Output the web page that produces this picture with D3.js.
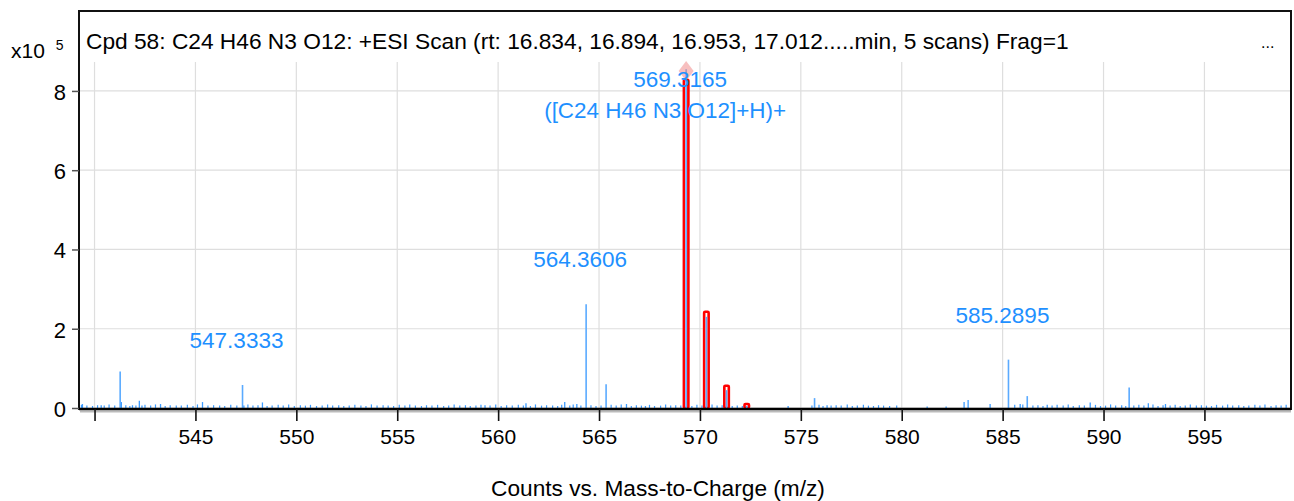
<!DOCTYPE html>
<html><head><meta charset="utf-8">
<script src="https://cdn.jsdelivr.net/npm/d3@7"></script>
<style>
html,body{margin:0;padding:0;background:#fff;}
svg{display:block;font-family:"Liberation Sans",Arial,sans-serif;}
</style></head>
<body>
<svg id="c" width="1294" height="501"></svg>
<script>
// ---- data (intensities in units of x10^5) ----
const titleText = "Cpd 58: C24 H46 N3 O12: +ESI Scan (rt: 16.834, 16.894, 16.953, 17.012.....min, 5 scans) Frag=1";
const xTickValues = [540, 545, 550, 555, 560, 565, 570, 575, 580, 585, 590, 595];
const xTickLabels = ["", "545", "550", "555", "560", "565", "570", "575", "580", "585", "590", "595"];
const yTickValues = [0, 2, 4, 6, 8];
const xTitle = "Counts vs. Mass-to-Charge (m/z)";

// named peaks
const peakMz = [541.27, 547.3333, 564.3606, 565.35, 569.3165, 570.32, 571.32, 572.32, 575.68, 585.2895, 586.22, 591.27];
const peakInt = [0.92, 0.58, 2.62, 0.60, 8.55, 2.30, 0.45, 0.05, 0.25, 1.22, 0.30, 0.52];

// small peaks
const minorMz = [539.40, 540.33, 541.33, 541.88, 542.22, 542.35, 543.27, 545.35, 547.40, 548.32, 559.35, 561.38, 563.30, 563.90, 566.36, 567.30, 574.37, 576.30, 583.09, 583.29, 584.38, 585.87, 587.21, 589.34, 592.22, 593.07, 581.26, 582.20];
const minorInt = [0.10, 0.07, 0.15, 0.07, 0.18, 0.06, 0.10, 0.15, 0.06, 0.14, 0.07, 0.12, 0.15, 0.10, 0.10, 0.05, 0.05, 0.07, 0.15, 0.20, 0.10, 0.10, 0.08, 0.14, 0.12, 0.10, 0.04, 0.04];

// baseline noise
const noiseMz = [539.35,539.62,539.90,540.15,540.48,540.72,541.00,541.55,541.75,542.05,542.50,542.78,543.02,543.50,543.75,544.05,544.30,544.60,544.88,545.10,545.62,545.90,546.20,546.45,546.75,547.05,547.60,547.85,548.10,548.55,548.80,549.10,549.35,549.62,549.90,550.20,550.45,550.70,551.00,551.28,551.55,551.80,552.10,552.35,552.62,552.90,553.20,553.45,553.72,554.00,554.30,554.55,554.82,555.10,555.38,555.62,555.90,556.20,556.45,556.72,557.00,557.30,557.55,557.82,558.10,558.38,558.62,558.90,559.15,559.60,559.88,560.15,560.42,560.70,561.00,561.25,561.60,561.85,562.15,562.40,562.70,562.95,563.15,563.55,563.72,564.10,564.60,564.85,565.10,565.60,565.85,566.10,566.60,566.85,567.10,567.50,567.75,568.05,568.30,568.55,568.80,569.05,569.60,569.85,570.10,570.60,570.85,571.10,571.60,571.85,572.10,575.55,575.90,576.10,576.50,576.75,577.00,577.30,577.55,577.80,578.10,578.35,578.60,578.85,579.10,579.40,579.75,585.60,586.00,586.50,586.75,587.00,587.45,587.70,588.00,588.25,588.50,588.80,589.05,589.60,589.85,590.10,590.35,590.60,590.90,591.10,591.50,591.75,592.00,592.45,592.70,592.95,593.30,593.55,593.80,594.05,594.30,594.60,594.85,595.10,595.35,595.60,595.90,596.15,596.40,596.70,596.95,597.20,597.50,597.75,598.00,598.30,598.55,598.80,599.05];
const noiseInt = [0.08,0.06,0.05,0.07,0.06,0.09,0.06,0.07,0.05,0.06,0.08,0.06,0.09,0.05,0.07,0.06,0.06,0.08,0.05,0.09,0.06,0.07,0.06,0.05,0.08,0.06,0.09,0.06,0.07,0.05,0.06,0.08,0.06,0.09,0.05,0.07,0.06,0.08,0.05,0.06,0.09,0.06,0.07,0.05,0.06,0.08,0.06,0.05,0.09,0.06,0.07,0.06,0.05,0.08,0.06,0.09,0.06,0.05,0.07,0.06,0.08,0.05,0.06,0.09,0.06,0.07,0.05,0.06,0.08,0.06,0.09,0.05,0.07,0.06,0.08,0.06,0.05,0.09,0.06,0.07,0.06,0.05,0.08,0.06,0.09,0.06,0.07,0.05,0.06,0.08,0.06,0.09,0.05,0.07,0.06,0.08,0.05,0.06,0.09,0.06,0.07,0.06,0.05,0.08,0.06,0.09,0.06,0.07,0.05,0.06,0.05,0.06,0.08,0.05,0.06,0.07,0.06,0.09,0.05,0.06,0.08,0.06,0.05,0.07,0.06,0.05,0.06,0.08,0.09,0.06,0.07,0.05,0.06,0.08,0.06,0.09,0.05,0.07,0.06,0.08,0.05,0.06,0.09,0.06,0.07,0.05,0.06,0.08,0.06,0.09,0.05,0.07,0.06,0.08,0.05,0.06,0.09,0.06,0.07,0.06,0.05,0.08,0.06,0.09,0.06,0.07,0.05,0.06,0.08,0.06,0.09,0.05,0.07,0.06,0.08,0.05,0.06];

// predicted isotope pattern (red boxes)
const isoMz = [569.3165, 570.32, 571.32, 572.32];
const isoInt = [8.28, 2.43, 0.56, 0.10];

// labels
const labelMz = [569.3165, 564.3606, 547.3333, 585.2895];
const labelText = ["569.3165", "564.3606", "547.3333", "585.2895"];
const formulaText = "([C24 H46 N3 O12]+H)+";

// ---- drawing ----
const svg = d3.select("#c");
const pLeft = 79, pRight = 1291, pTop = 62, pBottom = 408;
const x = d3.scaleLinear().domain([539.23, 599.29]).range([pLeft, pRight]);
const y = d3.scaleLinear().domain([0, 8.73]).range([pBottom, pTop]);
const BLUE = "#1e90ff";
const FONT = "Liberation Sans, Arial, sans-serif";

function fitText(sel, base, width) {
  sel.attr("font-size", base);
  const w = sel.node().getComputedTextLength();
  sel.attr("font-size", base * width / w);
  return sel;
}

// grid
const grid = svg.append("g");
grid.selectAll("line.v").data(xTickValues).join("line")
  .attr("x1", d => x(d)).attr("x2", d => x(d)).attr("y1", pTop).attr("y2", pBottom)
  .attr("stroke", "#dedede").attr("stroke-width", 1.2);
grid.selectAll("line.h").data(yTickValues).join("line")
  .attr("x1", pLeft + 1).attr("x2", pRight).attr("y1", d => y(d)).attr("y2", d => y(d))
  .attr("stroke", "#dedede").attr("stroke-width", 1.2);

// noise and peaks
const stick = (g, mz, it, col, w) => {
  g.selectAll(null).data(mz.map((m, i) => [m, it[i]])).join("line")
    .attr("x1", d => x(d[0])).attr("x2", d => x(d[0]))
    .attr("y1", y(0)).attr("y2", d => y(d[1]))
    .attr("stroke", col).attr("stroke-width", w);
};
const pg = svg.append("g");
stick(pg, noiseMz, noiseInt, "#3d9cff", 1.2);
stick(pg, minorMz, minorInt, "#3d9cff", 1.3);

// red isotope boxes
const bw = 4.5;
svg.append("g").selectAll("rect").data(isoMz.map((m, i) => [m, isoInt[i]])).join("rect")
  .attr("x", d => x(d[0]) - bw / 2).attr("width", bw)
  .attr("y", d => y(d[1])).attr("height", d => y(0) - y(d[1]))
  .attr("rx", 1).attr("fill", "#fff").attr("stroke", "#ff0000").attr("stroke-width", 2.6);

const mg = svg.append("g");
stick(mg, peakMz, peakInt, "#5aaaff", 1.6);

// diamond at apex of base peak
svg.append("path")
  .attr("d", d3.symbol(d3.symbolDiamond, 160)())
  .attr("transform", `translate(${x(569.3165)},${y(8.5)}) scale(1.1,0.85)`)
  .attr("fill", "#f08080").attr("opacity", 0.5);

// peak labels
const lg = svg.append("g").attr("fill", BLUE).attr("text-anchor", "middle");
labelMz.forEach((m, i) => {
  const idx = peakMz.indexOf(m);
  const ty = Math.max(y(peakInt[idx]) - 37, 87);
  fitText(lg.append("text").attr("x", x(m) - 6).attr("y", ty).text(labelText[i]), 20, 94);
  if (i === 0) fitText(lg.append("text").attr("x", x(m) - 21).attr("y", ty + 31).text(formulaText), 20, 242);
});

// frame
svg.append("rect").attr("x", 79).attr("y", 11).attr("width", 1212).attr("height", 398)
  .attr("fill", "none").attr("stroke", "#111").attr("stroke-width", 2);
svg.append("line").attr("x1", 80).attr("x2", 1291).attr("y1", 411.5).attr("y2", 411.5)
  .attr("stroke", "#bbb").attr("stroke-width", 2);
svg.append("line").attr("x1", 79).attr("x2", 1291).attr("y1", 409).attr("y2", 409)
  .attr("stroke", "#000").attr("stroke-width", 2.5);

// axes
const xa = svg.append("g").attr("transform", `translate(0,${409})`)
  .call(d3.axisBottom(x).tickValues(xTickValues).tickSize(12).tickPadding(8)
    .tickFormat((d, i) => xTickLabels[i]));
xa.select(".domain").remove();
xa.attr("font-size", 21).attr("font-family", FONT);
xa.selectAll(".tick line").attr("stroke", "#111").attr("stroke-width", 1.6);
xa.selectAll(".tick text").attr("fill", "#000");

const ya = svg.append("g").attr("transform", `translate(${79},0)`)
  .call(d3.axisLeft(y).tickValues(yTickValues).tickSize(7).tickPadding(6).tickFormat(d3.format("d")));
ya.select(".domain").remove();
ya.attr("font-size", 22).attr("font-family", FONT);
ya.selectAll(".tick line").attr("stroke", "#555").attr("stroke-width", 1.5);
ya.selectAll(".tick text").attr("fill", "#000").attr("dy", "0.38em");

// y unit label
const u = svg.append("text").attr("x", 11).attr("y", 58).attr("font-size", 21).attr("fill", "#000");
u.append("tspan").text("x10");
u.append("tspan").attr("font-size", 14).attr("dx", 11).attr("dy", -8).text("5");

// title inside frame
const t = svg.append("text").attr("x", 86).attr("y", 49).attr("fill", "#000").text(titleText);
fitText(t, 18, 983);
svg.append("text").attr("x", 1261).attr("y", 48).attr("font-size", 16).attr("fill", "#000").text("...");

// x axis title
fitText(svg.append("text").attr("x", 658).attr("y", 496).attr("text-anchor", "middle")
  .attr("fill", "#000").text(xTitle), 18, 334);
</script>
</body></html>
